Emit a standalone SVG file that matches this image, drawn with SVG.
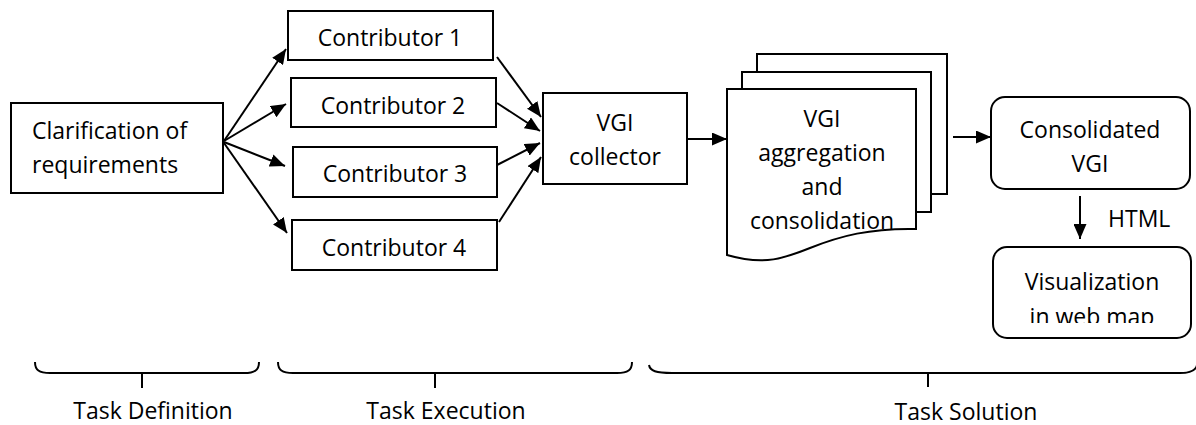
<svg xmlns="http://www.w3.org/2000/svg" width="1196" height="425" viewBox="0 0 1196 425">
<defs>
<style>
.box{fill:#fff;stroke:#000;stroke-width:2}
.t{font-family:"Open Sans","Liberation Sans",sans-serif;font-size:23px;fill:#000}
.c{text-anchor:middle}
.ln{stroke:#000;stroke-width:2;fill:none}
.ar{stroke:#000;stroke-width:2;fill:none;marker-end:url(#ah)}
</style>
<marker id="ah" markerUnits="userSpaceOnUse" markerWidth="15" markerHeight="13" refX="15" refY="6.5" orient="auto">
<path d="M0,0 L15,6.5 L0,13 z" fill="#000"/>
</marker>
<clipPath id="visclip"><rect x="993" y="247" width="198" height="76"/></clipPath>
</defs>
<rect width="1196" height="425" fill="#fff"/>

<g id="connectors">
<line class="ar" x1="224" y1="141" x2="286" y2="49"/>
<line class="ar" x1="224" y1="141" x2="286" y2="104"/>
<line class="ar" x1="224" y1="142" x2="285" y2="166"/>
<line class="ar" x1="224" y1="143" x2="287" y2="233"/>
<line class="ar" x1="497" y1="57" x2="541" y2="117"/>
<line class="ar" x1="497" y1="103" x2="540" y2="131"/>
<line class="ar" x1="497" y1="165" x2="540" y2="143"/>
<line class="ar" x1="499" y1="222" x2="541" y2="157"/>
<line class="ar" x1="688" y1="139" x2="727" y2="139"/>
<line class="ar" x1="953" y1="137" x2="991" y2="137"/>
<line class="ar" x1="1080" y1="196" x2="1080" y2="239"/>
</g>

<g id="clarification">
<rect class="box" x="11" y="103" width="212" height="90"/>
<text class="t" x="32" y="139">Clarification of</text>
<text class="t" x="32" y="173">requirements</text>
</g>

<g id="contributor1">
<rect class="box" x="288" y="11" width="205" height="49"/>
<text class="t c" x="390" y="46">Contributor 1</text>
</g>
<g id="contributor2">
<rect class="box" x="291" y="78" width="205" height="49"/>
<text class="t c" x="393" y="114">Contributor 2</text>
</g>
<g id="contributor3">
<rect class="box" x="293" y="147" width="204" height="50"/>
<text class="t c" x="395" y="182">Contributor 3</text>
</g>
<g id="contributor4">
<rect class="box" x="292" y="220" width="205" height="50"/>
<text class="t c" x="394" y="256">Contributor 4</text>
</g>

<g id="collector">
<rect class="box" x="543" y="93" width="144" height="91"/>
<text class="t c" x="615" y="131">VGI</text>
<text class="t c" x="615" y="165">collector</text>
</g>

<g id="aggregation">
<rect class="box" x="757" y="54" width="190" height="140"/>
<rect class="box" x="742" y="72" width="189" height="140"/>
<path class="box" d="M727,89 H916 V229 C870,228 840,236 810,248 C785,258 765,266 727,255 Z"/>
<text class="t c" x="822" y="127">VGI</text>
<text class="t c" x="822" y="161">aggregation</text>
<text class="t c" x="822" y="195">and</text>
<text class="t c" x="822" y="229">consolidation</text>
</g>

<g id="consolidated">
<rect class="box" x="991" y="97" width="199" height="92" rx="14"/>
<text class="t c" x="1090" y="138">Consolidated</text>
<text class="t c" x="1090" y="172">VGI</text>
</g>

<g id="html-label">
<text class="t" x="1108" y="227">HTML</text>
</g>

<g id="visualization">
<rect class="box" x="993" y="247" width="198" height="91" rx="14"/>
<g clip-path="url(#visclip)">
<text class="t c" x="1092" y="290">Visualization</text>
<text class="t c" x="1092" y="325">in web map</text>
</g>
</g>

<g id="task-definition">
<path class="ln" d="M35,362 C35,370 39,373 50,373 H244 C255,373 259,370 259,362 M142,373 V388"/>
<text class="t c" x="153" y="419">Task Definition</text>
</g>
<g id="task-execution">
<path class="ln" d="M278,362 C278,370 282,373 293,373 H617 C628,373 632,370 632,362 M435,373 V388"/>
<text class="t c" x="446" y="419">Task Execution</text>
</g>
<g id="task-solution">
<path class="ln" d="M649,365 C650,371 656,373 672,373 H1180 C1192,373 1196,370 1197,365 M928,373 V387"/>
<text class="t c" x="966" y="420">Task Solution</text>
</g>
</svg>
